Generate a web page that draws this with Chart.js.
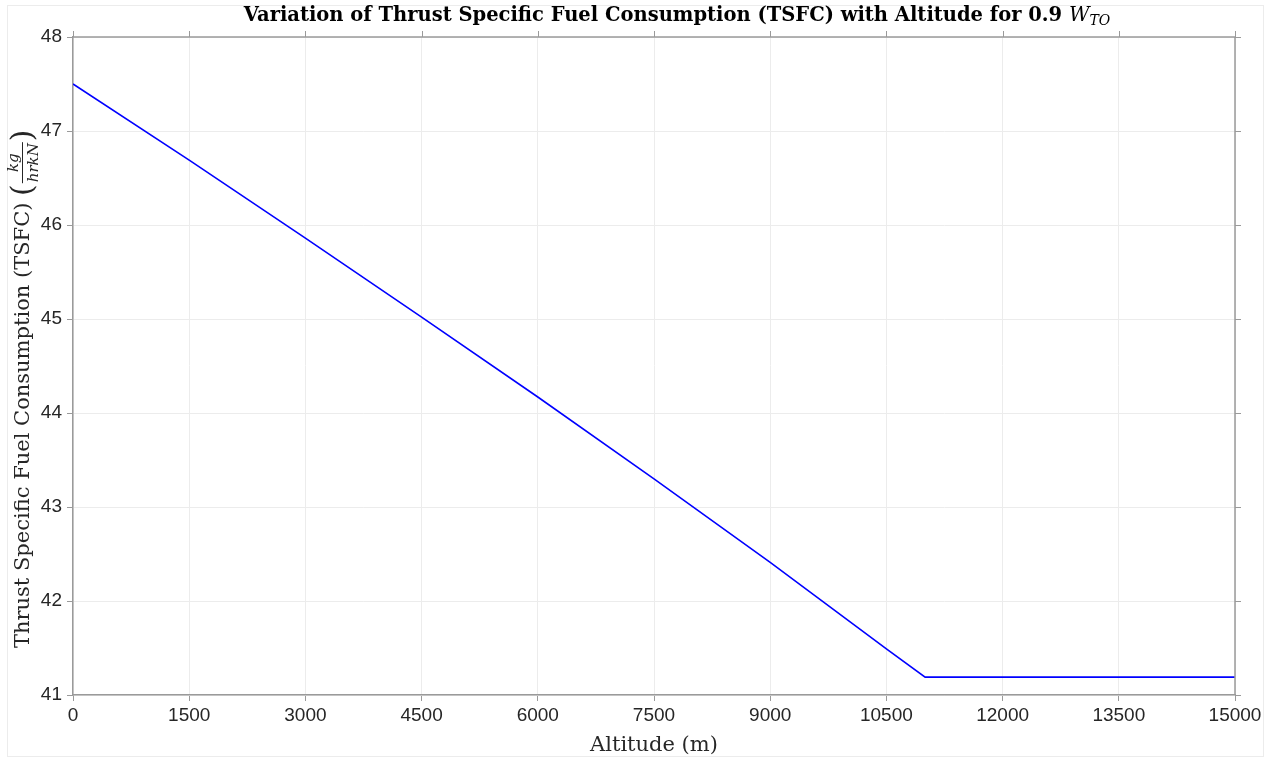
<!DOCTYPE html>
<html>
<head>
<meta charset="utf-8">
<title>TSFC vs Altitude</title>
<script src="https://cdn.jsdelivr.net/npm/chart.js@4.4.1/dist/chart.umd.min.js"></script>
<style>
    html, body { margin: 0; padding: 0; background: #ffffff; }
    #wrap { width: 1273px; height: 757px; }
</style>
</head>
<body>
<div id="wrap"><canvas id="tsfcChart" width="1273" height="757"></canvas></div>
<script>
// Altitude (m) and TSFC (kg/(hr kN)) for 0.9 W_TO
const altitude = [0, 1500, 3000, 4500, 6000, 7500, 9000, 10500, 11000, 15000];
const tsfc = [47.50, 46.69, 45.86, 45.02, 44.17, 43.30, 42.41, 41.49, 41.19, 41.19];

// Axis ticks
const xTicks = [0, 1500, 3000, 4500, 6000, 7500, 9000, 10500, 12000, 13500, 15000];
const yTicks = [41, 42, 43, 44, 45, 46, 47, 48];

const axisColor = '#9a9a9a';
const gridColor = '#ececec';
const textColor = '#262626';
const serif = '"DejaVu Serif", "Liberation Serif", serif';

// Box on top/right with mirrored tick marks, titles and figure frame
const decorations = {
    id: 'decorations',
    afterDraw(chart) {
        const ctx = chart.ctx;
        const area = chart.chartArea;
        const xs = chart.scales.x;
        const ys = chart.scales.y;

        ctx.save();
        // faint figure frame
        ctx.strokeStyle = '#ececec';
        ctx.lineWidth = 1;
        ctx.strokeRect(7.5, 5.5, 1256, 751);

        // top and right axis lines
        ctx.strokeStyle = axisColor;
        ctx.lineWidth = 1.5;
        ctx.beginPath();
        ctx.moveTo(area.left, area.top);
        ctx.lineTo(area.right, area.top);
        ctx.lineTo(area.right, area.bottom);
        ctx.stroke();

        ctx.lineWidth = 1;
        ctx.beginPath();
        xTicks.forEach(v => {
            const px = Math.round(xs.getPixelForValue(v)) + 0.5;
            ctx.moveTo(px, area.top);
            ctx.lineTo(px, area.top - 6);
        });
        yTicks.forEach(v => {
            const py = Math.round(ys.getPixelForValue(v)) + 0.5;
            ctx.moveTo(area.right, py);
            ctx.lineTo(area.right + 6, py);
        });
        ctx.stroke();

        ctx.fillStyle = '#000000';
        ctx.textBaseline = 'alphabetic';

        // title
        const main = 'Variation of Thrust Specific Fuel Consumption (TSFC) with Altitude for 0.9 ';
        ctx.font = 'bold 19.5px ' + serif;
        const wMain = ctx.measureText(main).width;
        ctx.font = 'italic 20px ' + serif;
        const wW = ctx.measureText('W').width;
        ctx.font = 'italic 14px ' + serif;
        const wSub = ctx.measureText('TO').width;
        let tx = 677 - (wMain + wW + wSub) / 2;
        const ty = 21;
        ctx.textAlign = 'left';
        ctx.font = 'bold 19.5px ' + serif;
        ctx.fillText(main, tx, ty);
        tx += wMain;
        ctx.font = 'italic 20px ' + serif;
        ctx.fillText('W', tx, ty);
        tx += wW;
        ctx.font = 'italic 14px ' + serif;
        ctx.fillText('TO', tx, ty + 4);

        // x axis title
        ctx.fillStyle = textColor;
        ctx.font = '21px ' + serif;
        ctx.textAlign = 'center';
        ctx.fillText('Altitude (m)', (area.left + area.right) / 2, 751);

        // y axis title, rotated, with kg / hrkN fraction
        const midY = (area.top + area.bottom) / 2;
        ctx.translate(29, midY);
        ctx.rotate(-Math.PI / 2);
        const yMain = 'Thrust Specific Fuel Consumption (TSFC) ';
        ctx.font = '21px ' + serif;
        const wy = ctx.measureText(yMain).width;
        ctx.font = '30px ' + serif;
        const wParen = ctx.measureText('(').width;
        ctx.font = 'italic 15px ' + serif;
        const wNum = ctx.measureText('kg').width;
        const wDen = ctx.measureText('hrkN').width;
        const wFrac = Math.max(wNum, wDen) + 4;
        let lx = -(648 - midY);
        ctx.textAlign = 'left';
        ctx.font = '21px ' + serif;
        ctx.fillText(yMain, lx, 0);
        lx += wy;
        ctx.font = '30px ' + serif;
        ctx.fillText('(', lx, 3);
        lx += wParen;
        ctx.font = 'italic 15px ' + serif;
        ctx.textAlign = 'center';
        ctx.fillText('kg', lx + wFrac / 2, -11);
        ctx.fillText('hrkN', lx + wFrac / 2, 9);
        ctx.strokeStyle = textColor;
        ctx.lineWidth = 1;
        ctx.beginPath();
        ctx.moveTo(lx + 1, -6.5);
        ctx.lineTo(lx + wFrac - 1, -6.5);
        ctx.stroke();
        lx += wFrac;
        ctx.textAlign = 'left';
        ctx.font = '30px ' + serif;
        ctx.fillText(')', lx, 3);
        ctx.restore();
    }
};

const ctx = document.getElementById('tsfcChart').getContext('2d');
const tsfcChart = new Chart(ctx, {
    type: 'line',
    data: {
        datasets: [{
            data: altitude.map((a, i) => ({ x: a, y: tsfc[i] })),
            borderColor: '#0000ff',
            borderWidth: 1.6,
            pointRadius: 0,
            tension: 0,
            fill: false
        }]
    },
    options: {
        responsive: false,
        animation: false,
        layout: { padding: { left: 0, right: 38, top: 37, bottom: 0 } },
        plugins: {
            legend: { display: false },
            title: { display: false },
            tooltip: { enabled: false }
        },
        scales: {
            x: {
                type: 'linear',
                min: 0,
                max: 15000,
                afterBuildTicks: scale => { scale.ticks = xTicks.map(v => ({ value: v })); },
                afterFit: scale => { scale.height = 62; },
                grid: { color: gridColor, tickColor: axisColor, tickLength: 6, lineWidth: 1 },
                border: { color: axisColor, width: 1.5 },
                ticks: {
                    color: textColor,
                    padding: 3,
                    maxRotation: 0,
                    font: { family: '"Liberation Sans", Arial, sans-serif', size: 19 },
                    callback: v => String(v)
                }
            },
            y: {
                type: 'linear',
                min: 41,
                max: 48,
                afterBuildTicks: scale => { scale.ticks = yTicks.map(v => ({ value: v })); },
                afterFit: scale => { scale.width = 73; },
                grid: { color: gridColor, tickColor: axisColor, tickLength: 6, lineWidth: 1 },
                border: { color: axisColor, width: 1.5 },
                ticks: {
                    color: textColor,
                    padding: 5,
                    font: { family: '"Liberation Sans", Arial, sans-serif', size: 19 },
                    callback: v => String(v)
                }
            }
        }
    },
    plugins: [decorations]
});
</script>
</body>
</html>
